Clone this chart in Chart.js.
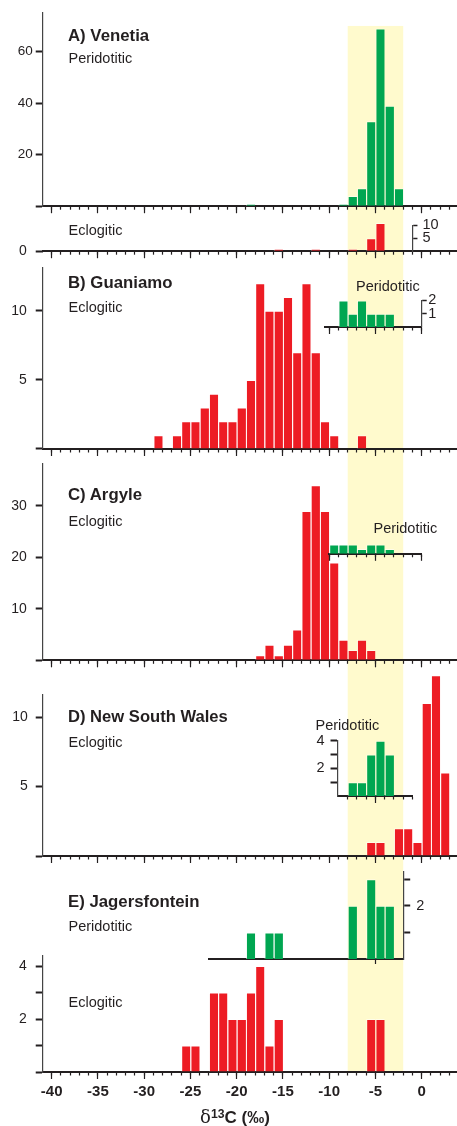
<!DOCTYPE html>
<html><head><meta charset="utf-8">
<script src="https://cdn.jsdelivr.net/npm/chart.js@4"></script>
<style>
body{margin:0;background:#fff}
#wrap{position:relative;width:457px;height:1126px;overflow:hidden;background:#fff}
canvas{position:absolute;left:0;top:0}
.t{position:absolute;white-space:nowrap;font-family:"Liberation Sans",Arial,Helvetica,sans-serif;color:#231f20;line-height:1}
</style></head>
<body><div id="wrap"></div>
<script>
// ---------------- DATA (bin lower edges in ‰, bin width 1‰; counts) ----------------
const BIN_WIDTH = 1;
// A) Venetia
const A_peri_bins   = [-19, -9, -8, -7, -6, -5, -4, -3];
const A_peri_counts = [1, 1, 4, 7, 33, 69, 39, 7];
const A_eclo_bins   = [-16, -12, -8, -6, -5];
const A_eclo_counts = [1, 1, 1, 5, 11];
// B) Guaniamo
const B_eclo_bins   = [-29, -27, -26, -25, -24, -23, -22, -21, -20, -19, -18, -17, -16, -15, -14, -13, -12, -11, -10, -7];
const B_eclo_counts = [1, 1, 2, 2, 3, 4, 2, 2, 3, 5, 12, 10, 10, 11, 7, 12, 7, 2, 1, 1];
const B_peri_bins   = [-9, -8, -7, -6, -5, -4];
const B_peri_counts = [2, 1, 2, 1, 1, 1];
// C) Argyle
const C_eclo_bins   = [-18, -17, -16, -15, -14, -13, -12, -11, -10, -9, -8, -7, -6];
const C_eclo_counts = [1, 3, 1, 3, 6, 29, 34, 29, 19, 4, 2, 4, 2];
const C_peri_bins   = [-10, -9, -8, -7, -6, -5, -4];
const C_peri_counts = [2, 2, 2, 1, 2, 2, 1];
// D) New South Wales
const D_eclo_bins   = [-6, -5, -3, -2, -1, 0, 1, 2];
const D_eclo_counts = [1, 1, 2, 2, 1, 11, 13, 6];
const D_peri_bins   = [-8, -7, -6, -5, -4];
const D_peri_counts = [1, 1, 3, 4, 3];
// E) Jagersfontein
const E_eclo_bins   = [-26, -25, -23, -22, -21, -20, -19, -18, -17, -16, -6, -5];
const E_eclo_counts = [1, 1, 3, 3, 2, 2, 3, 4, 1, 2, 2, 2];
const E_peri_bins   = [-19, -17, -16, -8, -6, -5, -4];
const E_peri_counts = [1, 1, 1, 2, 3, 2, 2];
// shaded mantle range
const BAND_RANGE = [-8, -2];
// tick labels
const X_TICK_LABELS = [-40, -35, -30, -25, -20, -15, -10, -5, 0];
const X_MAJOR = [-40, -35, -30, -25, -20, -15, -10, -5, 0];
const A_Y_TICKS = [0, 20, 40, 60],  A_Y_LABELS = [20, 40, 60];
const Ae_Y_TICKS = [0],             Ae_Y_LABELS = [0];
const Ae_R_TICKS = [5, 10],         Ae_R_LABELS = [5, 10];
const B_Y_TICKS = [0, 5, 10],       B_Y_LABELS = [5, 10];
const Bi_R_TICKS = [1, 2],          Bi_R_LABELS = [1, 2];
const C_Y_TICKS = [0, 10, 20, 30],  C_Y_LABELS = [10, 20, 30];
const D_Y_TICKS = [0, 5, 10],       D_Y_LABELS = [5, 10];
const Di_Y_TICKS = [1, 2, 3, 4],    Di_Y_LABELS = [2, 4];
const Ei_R_TICKS = [1, 2, 3],       Ei_R_LABELS = [2];
const E_Y_TICKS = [0, 1, 2, 3, 4],  E_Y_LABELS = [2, 4];

// ---------------- STYLE / LAYOUT ----------------
const W = 457, H = 1126;
const RED = '#ED1C24', GREEN = '#00A651', BANDC = '#FFFACD', AX = '#231f20';
const FONT = '"Liberation Sans", Arial, Helvetica, sans-serif';
const X0 = 421.7, PXU = 9.25;            // pixel of 0‰ and pixels per ‰
const XL = -40.97, XR = (W - X0) / PXU;
const G = {
  A:   {x: [XL, XR], base: 206.2, ppu: 2.575, ymax: 75},
  Ae:  {x: [XL, XR], base: 251.2, ppu: 2.575, ymax: 10},
  AeR: {x: [XL, -1], base: 251.2, ppu: 2.575, ymax: 10},
  B:   {x: [XL, XR], base: 449,   ppu: 13.82, ymax: 13.15},
  Bi:  {x: [-10.45, 0], base: 327, ppu: 13.3, ymax: 2},
  C:   {x: [XL, XR], base: 660.3, ppu: 5.15, ymax: 38.2},
  Ci:  {x: [-10, 0], base: 553.8, ppu: 4.7, ymax: 2.2},
  D:   {x: [XL, XR], base: 856,   ppu: 13.9, ymax: 11.6},
  Di:  {x: [-9.1, -1], base: 796, ppu: 13.8, ymax: 4},
  Ei:  {x: [-23, -2], base: 959,  ppu: 26.6, ymax: 3.28},
  E:   {x: [XL, XR], base: 1072,  ppu: 26.5, ymax: 4.41}
};
const BAND_TOP_A = 70;  // in panel A units

// widen the (zero-size) axis boxes after layout so their labels are not clipped
Chart.register({
  id: 'labelRoom',
  afterLayout(chart) {
    Object.values(chart.scales).forEach(s => {
      if (s.position === 'left') s.left = 0;
      else if (s.position === 'right') s.right = chart.width;
      else if (s.position === 'bottom') s.bottom = chart.height;
    });
  }
});

const wrap = document.getElementById('wrap');
function intsBetween(a, b) { const r = []; for (let v = Math.ceil(a); v <= Math.floor(b); v++) r.push(v); return r; }
function zeroFit(s) {
  if (s.isHorizontal()) s.height = 0; else s.width = 0;
  s.paddingLeft = s.paddingRight = s.paddingTop = s.paddingBottom = 0;
}
function xAxis(g, tickVals, o = {}) {
  return {
    type: 'linear', position: 'bottom', min: g.x[0], max: g.x[1], bounds: 'data', offset: false,
    display: o.display !== false,
    grid: {display: true, drawOnChartArea: false, drawTicks: true, tickLength: o.len || 3.5,
           tickWidth: o.tw || 1.2, tickColor: AX, offset: false, lineWidth: 1},
    border: {display: !!o.border, width: 2, color: AX},
    ticks: {display: !!o.labels, autoSkip: false, maxRotation: 0, minRotation: 0, padding: o.pad || 4,
            color: AX, font: {family: FONT, size: 15, weight: 'bold'},
            callback: v => (o.labels && o.labels.includes(v)) ? String(v) : ''},
    afterBuildTicks: s => { s.ticks = tickVals.map(v => ({value: v})); },
    afterFit: zeroFit
  };
}
function yAxis(g, tickVals, labels, o = {}) {
  return {
    type: 'linear', position: o.pos || 'left', min: 0, max: g.ymax, bounds: 'data',
    display: o.display !== false,
    grid: {display: true, drawOnChartArea: false, drawTicks: true, tickLength: o.len || 7,
           tickWidth: o.tw || 2, tickColor: AX, lineWidth: 1},
    border: {display: o.border !== false, width: 1.2, color: '#444'},
    ticks: {display: true, autoSkip: false, padding: o.pad == null ? 8 : o.pad, color: AX,
            font: {family: FONT, size: o.fs || 14},
            callback: v => labels.includes(v) ? String(v) : ''},
    afterBuildTicks: s => { s.ticks = tickVals.map(v => ({value: v})); },
    afterFit: zeroFit
  };
}
function barDS(bins, counts, color) {
  return {
    data: bins.map((b, i) => ({x: b + BIN_WIDTH / 2, y: counts[i]})),
    backgroundColor: color, borderColor: 'rgba(255,255,255,0.55)',
    borderWidth: {left: 1, top: 1, right: 0, bottom: 0},
    barPercentage: 1, categoryPercentage: 1, inflateAmount: 0, clip: false,
    xAxisID: 'x', yAxisID: 'y'
  };
}
function mk(g, datasets, scales, plugins = []) {
  const c = document.createElement('canvas'); c.width = W; c.height = H; wrap.appendChild(c);
  const left = X0 + PXU * g.x[0], right = X0 + PXU * g.x[1];
  const bottom = g.base, top = g.base - g.ppu * g.ymax;
  return new Chart(c.getContext('2d'), {
    type: 'bar', data: {datasets},
    options: {
      responsive: false, animation: false, devicePixelRatio: 1, events: [],
      layout: {padding: {left, top, right: W - right, bottom: H - bottom}, autoPadding: false},
      plugins: {legend: {display: false}, tooltip: {enabled: false}, title: {display: false}},
      scales
    },
    plugins
  });
}
const bandPlugin = {
  id: 'band',
  beforeDraw(chart) {
    const {ctx, scales: {x, y}} = chart;
    const x1 = x.getPixelForValue(BAND_RANGE[0]), x2 = x.getPixelForValue(BAND_RANGE[1]);
    const y1 = y.getPixelForValue(BAND_TOP_A), y2 = G.E.base;
    ctx.save(); ctx.fillStyle = BANDC; ctx.fillRect(x1, y1, x2 - x1, y2 - y1); ctx.restore();
  }
};
const MINOR_MAIN = intsBetween(XL, XR);

// A) Venetia – peridotitic
mk(G.A, [barDS(A_peri_bins, A_peri_counts, GREEN)], {
  x: xAxis(G.A, MINOR_MAIN, {border: true}),
  xM: xAxis(G.A, X_MAJOR, {len: 7}),
  y: yAxis(G.A, A_Y_TICKS, A_Y_LABELS, {pad: 3, fs: 13.5})
}, [bandPlugin]);
// A) eclogitic strip
mk(G.Ae, [barDS(A_eclo_bins, A_eclo_counts, RED)], {
  x: xAxis(G.Ae, MINOR_MAIN, {border: true}),
  xM: xAxis(G.Ae, X_MAJOR, {len: 7}),
  y: yAxis(G.Ae, Ae_Y_TICKS, Ae_Y_LABELS, {pad: 9, border: false})
});
mk(G.AeR, [], {
  x: xAxis(G.AeR, [], {display: false}),
  y: yAxis(G.AeR, Ae_R_TICKS, Ae_R_LABELS, {pos: 'right', len: 5, tw: 1.5, pad: 5, fs: 14.5})
});
// B) Guaniamo
mk(G.B, [barDS(B_eclo_bins, B_eclo_counts, RED)], {
  x: xAxis(G.B, MINOR_MAIN, {border: true}),
  xM: xAxis(G.B, X_MAJOR, {len: 7}),
  y: yAxis(G.B, B_Y_TICKS, B_Y_LABELS, {pad: 9})
});
mk(G.Bi, [barDS(B_peri_bins, B_peri_counts, GREEN)], {
  x: xAxis(G.Bi, intsBetween(-10, 0), {border: true}),
  xM: xAxis(G.Bi, [-10, -5, 0], {len: 7}),
  y: yAxis(G.Bi, Bi_R_TICKS, Bi_R_LABELS, {pos: 'right', len: 5, tw: 1.5, pad: 1.5, fs: 14.5})
});
// C) Argyle
mk(G.C, [barDS(C_eclo_bins, C_eclo_counts, RED)], {
  x: xAxis(G.C, MINOR_MAIN, {border: true}),
  xM: xAxis(G.C, X_MAJOR, {len: 7}),
  y: yAxis(G.C, C_Y_TICKS, C_Y_LABELS, {pad: 9})
});
mk(G.Ci, [barDS(C_peri_bins, C_peri_counts, GREEN)], {
  x: xAxis(G.Ci, intsBetween(-10, 0), {border: true}),
  xM: xAxis(G.Ci, [-10, -5, 0], {len: 7}),
  y: yAxis(G.Ci, [], [], {display: false})
});
// D) New South Wales
mk(G.D, [barDS(D_eclo_bins, D_eclo_counts, RED)], {
  x: xAxis(G.D, MINOR_MAIN, {border: true}),
  xM: xAxis(G.D, X_MAJOR, {len: 7}),
  y: yAxis(G.D, D_Y_TICKS, D_Y_LABELS, {pad: 8})
});
mk(G.Di, [barDS(D_peri_bins, D_peri_counts, GREEN)], {
  x: xAxis(G.Di, intsBetween(-8, -1), {border: true}),
  xM: xAxis(G.Di, [-5], {len: 7}),
  y: yAxis(G.Di, Di_Y_TICKS, Di_Y_LABELS, {pad: 6, fs: 14.5})
});
// E) Jagersfontein
mk(G.Ei, [barDS(E_peri_bins, E_peri_counts, GREEN)], {
  x: xAxis(G.Ei, [-5], {border: true, len: 5}),
  y: yAxis(G.Ei, Ei_R_TICKS, Ei_R_LABELS, {pos: 'right', len: 7, pad: 6, fs: 14.5})
});
mk(G.E, [barDS(E_eclo_bins, E_eclo_counts, RED)], {
  x: xAxis(G.E, MINOR_MAIN, {border: true}),
  xM: xAxis(G.E, X_MAJOR, {len: 7, labels: X_TICK_LABELS, pad: 4}),
  y: yAxis(G.E, E_Y_TICKS, E_Y_LABELS, {pad: 9})
});

// ---------------- TEXT ----------------
function addText(txt, x, baseline, size, bold) {
  const d = document.createElement('div'); d.className = 't'; d.textContent = txt;
  d.style.left = x + 'px'; d.style.top = (baseline - 0.8465 * size) + 'px';
  d.style.fontSize = size + 'px'; if (bold) d.style.fontWeight = 'bold';
  wrap.appendChild(d);
}
const TEXTS = [
  ['A) Venetia', 68, 42.7, 16.8, true],
  ['Peridotitic', 68.5, 63.3, 14.5],
  ['Eclogitic', 68.5, 235.7, 14.5],
  ['B) Guaniamo', 68, 289.3, 16.8, true],
  ['Eclogitic', 68.5, 312, 14.5],
  ['Peridotitic', 356, 291.7, 14.5],
  ['C) Argyle', 68, 501.5, 16.8, true],
  ['Eclogitic', 68.5, 526, 14.5],
  ['Peridotitic', 373.5, 533.3, 14.5],
  ['D) New South Wales', 68, 723.3, 16.6, true],
  ['Eclogitic', 68.5, 747.3, 14.5],
  ['Peridotitic', 315.5, 730.7, 14.5],
  ['E) Jagersfontein', 68, 908.3, 16.8, true],
  ['Peridotitic', 68.5, 931, 14.5],
  ['Eclogitic', 68.5, 1007.3, 14.5]
];
TEXTS.forEach(t => addText(t[0], t[1], t[2], t[3], t[4]));
const title = document.createElement('div');
title.className = 't';
title.style.cssText = 'left:235px;top:' + (1122.5 - 0.8465 * 17) + 'px;font-size:17px;font-weight:bold;transform:translateX(-50%);';
title.innerHTML = '<span style="font-weight:normal;font-family:\'DejaVu Serif\',serif;font-size:18px">δ</span><span style="position:relative;top:-0.45em;font-size:0.72em">13</span>C (‰)';
wrap.appendChild(title);
</script>
</body></html>
